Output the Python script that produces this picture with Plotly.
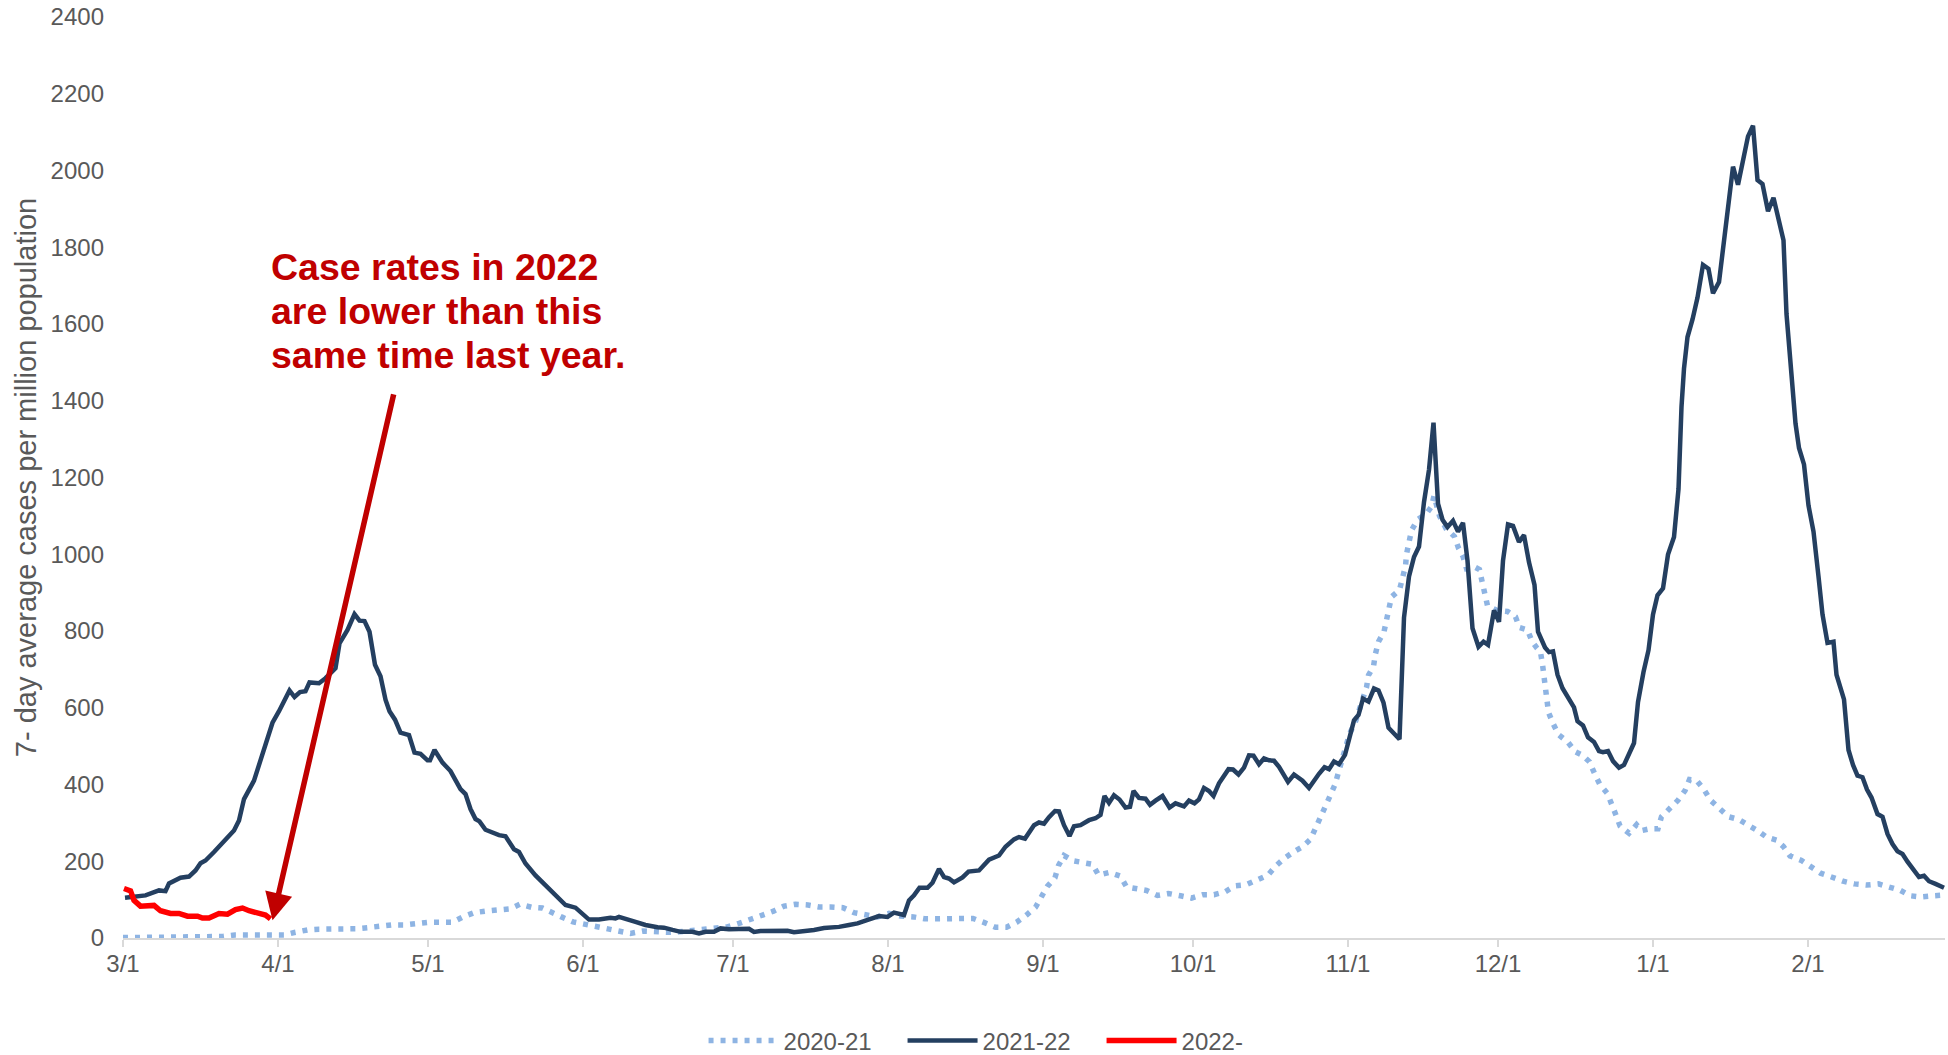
import plotly.graph_objects as go

# ---------------- data ----------------
# x = days since 3/1 of each season (3/1 = 0 ... 2/28 = 364)
month_days = [0, 31, 61, 92, 122, 153, 184, 214, 245, 275, 306, 337]
month_labels = ["3/1", "4/1", "5/1", "6/1", "7/1", "8/1", "9/1", "10/1", "11/1", "12/1", "1/1", "2/1"]

y_ticks = [0, 200, 400, 600, 800, 1000, 1200, 1400, 1600, 1800, 2000, 2200, 2400]

days_2020_21 = [0, 4, 8, 12, 16.5, 20, 22.4, 24.9, 27.3, 29.7, 32.2, 34.5, 36.9, 39.2, 41.7, 44.2, 46.5, 48.9,
                51.3, 53.7, 56.2, 58.7, 61.1, 63.5, 65.9, 68, 70.2, 72.5, 75, 77.4, 79.4, 81.7, 83.9, 85.9, 87.7,
                90, 92.3, 94.5, 96.9, 99.2, 101.5, 104, 106.3, 108.9, 111.2, 113.7, 116, 118.4, 120.9, 123.2,
                125.5, 127.9, 130.1, 132.2, 134.5, 137, 139.2, 141.5, 144, 146.2, 148.5, 150.9, 153.2, 155.5,
                158.1, 160.3, 162.7, 165.2, 167.5, 170, 172.3, 174.5, 176.7, 178.7, 180.7, 182.5, 183.7, 184.9,
                186.4, 187.1, 188.2, 190.1, 192.2, 193.9, 195.1, 197.3, 199.5, 200.7, 202.5, 204.7, 206.9, 209.1,
                211.5, 213.7, 216, 218.2, 220.5, 222.4, 224.7, 227, 229, 230.5, 232.3, 234.3, 235.9, 237.5,
                238.5, 239.5, 240.4, 241.4, 242.4, 243.1, 244.2, 245.3, 246.4, 247.2, 248.1, 248.7, 249.1,
                250.1, 250.5, 251.1, 252.2, 252.8, 253.7, 255.3, 256, 256.5, 256.7, 257.2, 257.7, 258.9, 260.7,
                261.7, 262.2, 263.3, 264.6, 266.3, 267.1, 268, 268.7, 270, 271.3, 271.8, 272.3, 272.9, 274.7,
                276.9, 278.5, 279.3, 280.9, 281.8, 282.7, 283.5, 283.9, 284.2, 284.5, 284.8, 285.1, 286, 287.1,
                289, 290.5, 291.9, 293.3, 294.3, 295.3, 296.9, 297.9, 298.6, 299.4, 301.2, 302.7, 303.7, 305.5,
                307, 307.7, 309.2, 311, 312.4, 313.3, 314.7, 316.2, 317.5, 319.3, 321.1, 323.1, 325.2, 326.9,
                328.7, 330.7, 332.1, 333.4, 335.7, 337.7, 339.5, 341.7, 344, 346.3, 348.7, 351.1, 353.3, 355.5,
                357.5, 359.5, 362.1, 364.2]
cases_2020_21 = [1, 1, 1, 2, 3, 4, 8, 8, 6, 6, 8, 15, 21, 23, 23, 22, 24, 27,
                 31, 34, 34, 38, 41, 41, 41, 55, 66, 70, 73, 76, 88, 80, 78, 64, 55,
                 42, 36, 30, 25, 19, 12, 18, 16, 15, 16, 19, 22, 24, 29, 38,
                 48, 58, 70, 83, 88, 86, 81, 81, 79, 66, 62, 55, 64, 57,
                 55, 50, 50, 51, 51, 51, 40, 28, 28, 41, 60, 80, 108, 135,
                 157, 189, 215, 201, 196, 192, 164, 171, 161, 133, 129, 124, 111, 116,
                 110, 104, 113, 113, 121, 136, 139, 152, 164, 187, 208, 226, 238, 257,
                 284, 312, 343, 370, 400, 431, 488, 532, 560, 593, 625, 653, 685,
                 708, 741, 772, 798, 831, 889, 907, 937, 969, 1000, 1032, 1062, 1090, 1106,
                 1124, 1152, 1100, 1067, 1046, 1016, 994, 963, 969, 960, 930, 898, 866, 854,
                 851, 837, 809, 803, 773, 757, 745, 713, 682, 650, 620, 588, 559, 530,
                 510, 485, 476, 459, 429, 402, 376, 347, 320, 292, 273, 295, 280, 285,
                 285, 316, 337, 359, 384, 413, 411, 387, 359, 337, 316, 309, 295, 280,
                 263, 255, 238, 214, 202, 185, 169, 159, 148, 141, 138, 141, 131, 124,
                 110, 107, 110, 112]

days_2021_22 = [0.4, 4.5, 7.2, 8.5, 9.2, 11.5, 13.2, 14.5, 15.5, 16.5, 18.2, 20.5, 22.2, 23.2, 24.2, 26.2, 27.5,
                28.5, 29.9, 31.2, 32.5, 33.3, 34.3, 35.4, 36.5, 37.3, 39.2, 40.5, 42.5, 43.3, 44.9, 46.3, 47.3,
                48.3, 49.3, 50.4, 51.5, 52.5, 53.3, 54.4, 55.5, 57.2, 58.3, 59.5, 60.9, 61.4, 62.3, 63.9, 65.5,
                67.5, 68.5, 69.5, 70.5, 71.3, 72.5, 75.2, 76.5, 78.2, 79.2, 80.5, 82.5, 85.2, 86.2, 88.5, 90.5,
                93.2, 95.2, 97.5, 98.5, 99.2, 102.5, 104.5, 106.9, 108.2, 109.9, 111.5, 113.9, 115.2, 116.5,
                118.2, 119.5, 121.2, 125.2, 126.2, 127.5, 132.9, 134.2, 136.5, 138.2, 140.2, 143.2, 145.2,
                146.9, 148.5, 149.9, 151.2, 152.9, 154.2, 156.2, 157.2, 158.2, 159.3, 160.9, 161.9, 163.2,
                164.2, 165.2, 166.2, 167.9, 169.1, 171.2, 173.2, 175.2, 176.5, 178.2, 179.2, 180.4, 182.2,
                183.2, 184.2, 185.2, 186.4, 187.2, 188.2, 189.3, 190.2, 191.5, 193.2, 194.5, 195.5, 196.3,
                197.2, 198.2, 199.3, 200.5, 201.4, 202.1, 203.2, 204.5, 205.4, 206.5, 207.9, 209.3, 210.5,
                212.2, 213.2, 214.3, 215.2, 216.2, 217.2, 218.1, 219.2, 221.1, 222, 223.1, 224.2, 225.2, 226.1,
                227.2, 228.2, 229.2, 230.2, 231.2, 233, 234.2, 235.9, 237.2, 238.4, 239.2, 240.3, 241.2, 242.2,
                243.2, 244.4, 245.2, 246.2, 247.1, 248, 249.1, 250.2, 251.1, 252.1, 253.1, 254.2, 255.3, 256.2,
                257.2, 258.2, 259.2, 260.2, 261.2, 262.1, 263, 263.9, 264.9, 266, 267, 268, 268.9, 269.9,
                271.1, 272.1, 273, 274.2, 275.2, 276, 277, 278, 279.2, 280.2, 281.2, 282.3, 283, 284.4, 285.2,
                286, 286.9, 287.9, 289.2, 290.2, 290.9, 292, 293, 294.2, 295.2, 296, 297, 298, 299.2, 300.2,
                302.2, 303, 304.1, 305.1, 306, 306.9, 308, 309, 310.2, 311.1, 311.7, 312.2, 312.9, 313.9, 314.9,
                316, 317.1, 318, 319.2, 320.2, 321.2, 322, 323, 324, 325, 326, 326.9, 327.9, 329, 330.1, 331.2,
                332.1, 332.7, 333.6, 334.5, 335.2, 336.2, 337.1, 338.1, 339.1, 339.9, 340.9, 342.1, 342.7,
                343.4, 344.2, 345.1, 346, 346.9, 347.9, 348.8, 349.7, 350.9, 351.9, 352.9, 353.9, 354.9, 355.9,
                356.9, 358.1, 359.2, 360.2, 361.2, 362.5, 364.2]
cases_2021_22 = [105, 111, 124, 122, 142, 157, 160, 176, 195, 202, 224, 254, 280, 306, 362, 410, 461,
                 505, 561, 591, 625, 645, 628, 641, 643, 666, 664, 677, 703, 768, 803, 844, 827,
                 826, 798, 712, 682, 621, 591, 569, 535, 529, 483, 480, 463, 463, 490, 457, 435,
                 388, 375, 336, 310, 304, 282, 268, 265, 231, 224, 194, 163, 129, 117, 86, 79,
                 48, 48, 53, 51, 55, 42, 34, 28, 27, 21, 16, 16, 12, 16,
                 16, 25, 23, 24, 16, 18, 19, 15, 18, 21, 26, 29, 34,
                 38, 45, 51, 57, 55, 66, 60, 98, 111, 131, 131, 144, 180,
                 159, 155, 145, 158, 173, 176, 204, 215, 238, 257, 263, 259, 294,
                 301, 298, 315, 331, 330, 294, 266, 291, 294, 307, 312, 321, 370,
                 352, 372, 361, 340, 342, 383, 365, 363, 347, 358, 370, 340, 351,
                 343, 358, 351, 361, 391, 383, 370, 403, 440, 439, 426, 444, 476, 475,
                 453, 468, 463, 462, 446, 407, 426, 410, 391, 416, 428, 445, 440, 460,
                 453, 477, 516, 567, 581, 624, 616, 650, 645, 613, 548, 532, 518, 835,
                 942, 993, 1020, 1136, 1220, 1343, 1132, 1090, 1071, 1087, 1059, 1082, 983, 807,
                 759, 772, 764, 854, 824, 983, 1078, 1074, 1032, 1050, 979, 920, 798, 757, 745,
                 747, 686, 651, 622, 601, 565, 554, 523, 511, 487, 484, 487, 461, 444, 451,
                 508, 615, 693, 750, 843, 893, 911, 999, 1045, 1170, 1384, 1484, 1566, 1612, 1669,
                 1754, 1744, 1680, 1709, 1818, 1918, 2010, 1963, 2025, 2089, 2117, 1975, 1965, 1894, 1929, 1868,
                 1818, 1626, 1498, 1341, 1277, 1234, 1127, 1059, 942, 843, 769, 772, 686,
                 658, 622, 490, 451, 423, 419, 387, 366, 323, 316, 271, 245, 226, 219,
                 199, 178, 159, 162, 148, 141, 131]

days_2022 = [0.2, 1.5, 2.2, 3.5, 6.2, 7.5, 9.5, 11.2, 12.9, 14.9, 15.9, 17.2, 19.2, 20.9, 22.5, 23.9, 25.2,
             26.9, 28.5, 29.5]
cases_2022 = [129, 123, 98, 83, 85, 71, 64, 64, 57, 57, 52, 52, 64, 62, 74, 78, 71,
              67, 60, 50]

series_names = ["2020-21", "2021-22", "2022-"]
annotation_lines = ["Case rates in 2022", "are lower than this", "same time last year."]
y_title = "7- day average cases per million population"

# ---------------- style ----------------
W, H = 1948, 1055
ML, MR, MT, MB = 123, 3, 12, 117
X_RANGE = [0, 364.4]
Y_RANGE = [0, 2400]
FONT = "Arial, Liberation Sans, sans-serif"
GREY = "#595959"
C_2020 = "#8EB4E3"
C_2021 = "#243F60"
C_2022 = "#FF0000"
C_NOTE = "#C00000"


def px_to_paper_x(px):
    return (px - ML) / (W - ML - MR)


def px_to_paper_y(py):
    return (H - MB - py) / (H - MT - MB)


def px_to_data_x(px):
    return X_RANGE[0] + px_to_paper_x(px) * (X_RANGE[1] - X_RANGE[0])


def px_to_data_y(py):
    return Y_RANGE[0] + px_to_paper_y(py) * (Y_RANGE[1] - Y_RANGE[0])


fig = go.Figure()
fig.add_trace(go.Scatter(x=days_2020_21, y=cases_2020_21, mode="lines", name=series_names[0],
                         line=dict(color=C_2020, width=5.5, dash="5px,7px")))
fig.add_trace(go.Scatter(x=days_2021_22, y=cases_2021_22, mode="lines", name=series_names[1],
                         line=dict(color=C_2021, width=4.5)))
fig.add_trace(go.Scatter(x=days_2022, y=cases_2022, mode="lines", name=series_names[2],
                         line=dict(color=C_2022, width=5.5)))

# arrow (tip near the end of the 2022 line)
fig.add_annotation(x=days_2022[-1] + 0.4, y=cases_2022[-1] - 4, xref="x", yref="y",
                   ax=px_to_data_x(394), ay=px_to_data_y(390), axref="x", ayref="y",
                   text="", showarrow=True, arrowhead=2, arrowsize=1.0, arrowwidth=5.5,
                   arrowcolor=C_NOTE, standoff=0, startstandoff=0)

for i, line in enumerate(annotation_lines):
    fig.add_annotation(x=px_to_paper_x(269), y=px_to_paper_y(263.5 + 44 * i), xref="paper", yref="paper",
                       text="<b>%s</b>" % line, showarrow=False, xanchor="left", yanchor="middle",
                       align="left", font=dict(family=FONT, size=37.5, color=C_NOTE))

fig.update_layout(
    width=W, height=H,
    margin=dict(l=ML, r=MR, t=MT, b=MB, pad=0),
    paper_bgcolor="white", plot_bgcolor="white",
    font=dict(family=FONT, color=GREY, size=24),
    showlegend=True,
    legend=dict(orientation="h", xref="container", yref="container", x=0.5144, xanchor="center",
                y=1 - 1041 / H, yanchor="middle", font=dict(family=FONT, size=24, color=GREY),
                itemwidth=70, entrywidth=114, traceorder="normal"),
    xaxis=dict(range=X_RANGE, tickmode="array", tickvals=month_days, ticktext=month_labels,
               showgrid=False, zeroline=False, showline=True, linecolor="#D9D9D9", linewidth=2,
               ticks="outside", ticklen=7, tickwidth=1.5, tickcolor="#D9D9D9",
               ticklabelstandoff=-4,
               tickfont=dict(family=FONT, size=24, color=GREY)),
    yaxis=dict(range=Y_RANGE, tickmode="array", tickvals=y_ticks,
               showgrid=False, zeroline=False, showline=False, ticks="",
               ticklabelstandoff=18, ticklabeloverflow="allow",
               tickfont=dict(family=FONT, size=24, color=GREY),
               title=dict(text=y_title, font=dict(family=FONT, size=29, color=GREY), standoff=5)),
)

fig.write_html("out.html", config={"displayModeBar": False},
               post_script="document.body.style.margin='0';")
